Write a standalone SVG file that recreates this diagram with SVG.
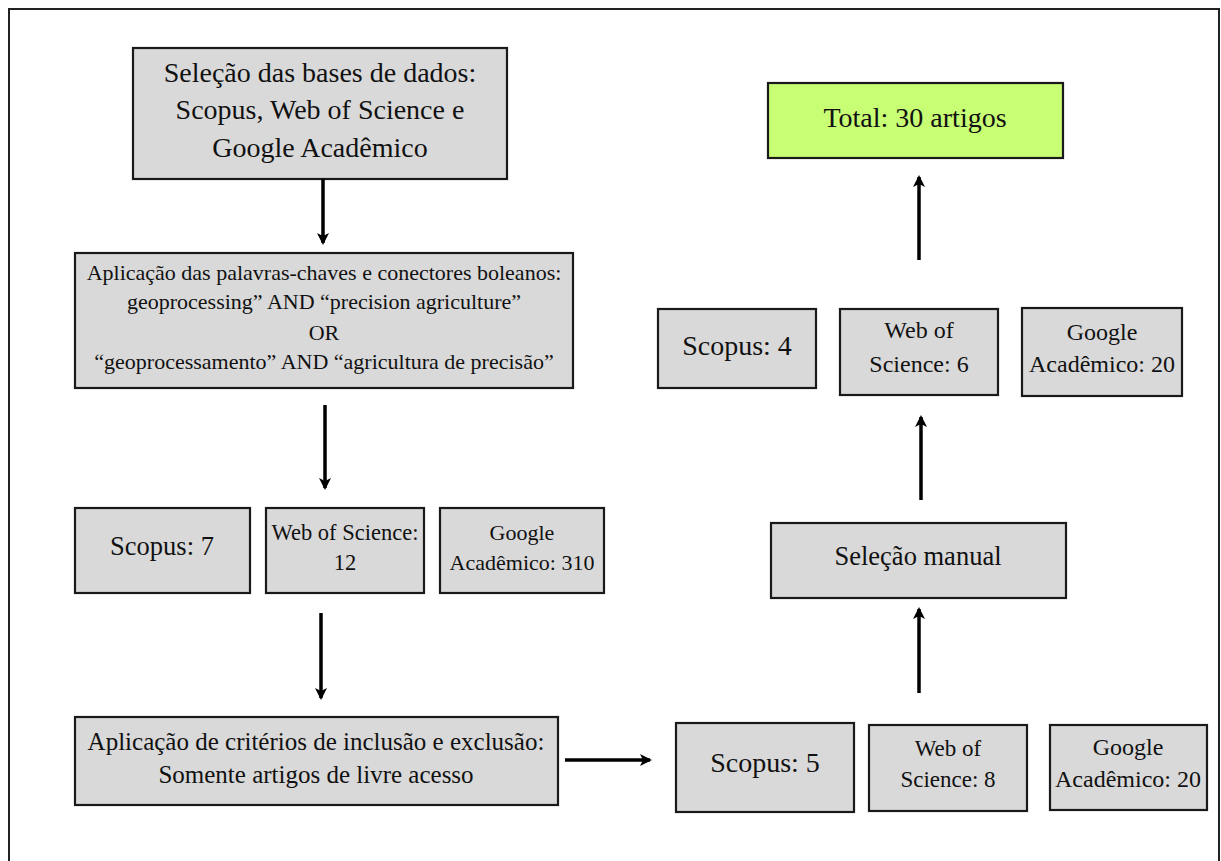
<svg xmlns="http://www.w3.org/2000/svg" width="1221" height="861" viewBox="0 0 1221 861">
<defs>
<style>
.box{fill:#d9d9d9;stroke:#1a1a1a;stroke-width:2.2}
.green{fill:#c8fe74;stroke:#1a1a1a;stroke-width:2.2}
text{font-family:"Liberation Serif","Times New Roman",serif;fill:#111;text-anchor:middle}
.conn{stroke:#000;stroke-width:3.5;fill:none;marker-end:url(#ah)}
</style>
<marker id="ah" viewBox="0 0 12 12" refX="10" refY="6" markerWidth="12" markerHeight="12" markerUnits="userSpaceOnUse" orient="auto">
<path d="M0,0 L12,6 L0,12 L3,6 z" fill="#000"/>
</marker>
</defs>
<rect x="0" y="0" width="1221" height="861" fill="#fff"/>
<rect x="9" y="9" width="1210" height="880" fill="none" stroke="#222" stroke-width="2"/>

<g id="bases">
<rect class="box" x="133" y="48" width="374" height="131"/>
<text x="320" y="82" font-size="28">Seleção das bases de dados:</text>
<text x="320" y="119" font-size="28">Scopus, Web of Science e</text>
<text x="320" y="157" font-size="28">Google Acadêmico</text>
</g>

<g id="palavras">
<rect class="box" x="75" y="253" width="498" height="135"/>
<text x="324" y="280" font-size="22">Aplicação das palavras-chaves e conectores boleanos:</text>
<text x="324" y="309" font-size="22">geoprocessing” AND “precision agriculture”</text>
<text x="324" y="340" font-size="22">OR</text>
<text x="324" y="369" font-size="22">“geoprocessamento” AND “agricultura de precisão”</text>
</g>

<g id="scopus7">
<rect class="box" x="75" y="508" width="175" height="85"/>
<text x="162" y="555" font-size="26.5">Scopus: 7</text>
</g>
<g id="wos12">
<rect class="box" x="266" y="508" width="158" height="85"/>
<text x="345" y="540" font-size="22.5">Web of Science:</text>
<text x="345" y="570" font-size="22.5">12</text>
</g>
<g id="google310">
<rect class="box" x="440" y="508" width="164" height="85"/>
<text x="522" y="540" font-size="22">Google</text>
<text x="522" y="570" font-size="22">Acadêmico: 310</text>
</g>

<g id="criterios">
<rect class="box" x="75" y="717" width="483" height="88"/>
<text x="316" y="750" font-size="25">Aplicação de critérios de inclusão e exclusão:</text>
<text x="316" y="783" font-size="25">Somente artigos de livre acesso</text>
</g>

<g id="scopus5">
<rect class="box" x="676" y="723" width="178" height="89"/>
<text x="765" y="772" font-size="28">Scopus: 5</text>
</g>
<g id="wos8">
<rect class="box" x="869" y="725" width="158" height="86"/>
<text x="948" y="756" font-size="23">Web of</text>
<text x="948" y="787" font-size="23">Science: 8</text>
</g>
<g id="google20b">
<rect class="box" x="1050" y="725" width="157" height="85"/>
<text x="1128" y="755" font-size="24">Google</text>
<text x="1128" y="787" font-size="24">Acadêmico: 20</text>
</g>

<g id="manual">
<rect class="box" x="771" y="523" width="295" height="75"/>
<text x="918" y="565" font-size="26.5">Seleção manual</text>
</g>

<g id="scopus4">
<rect class="box" x="658" y="309" width="158" height="79"/>
<text x="737" y="355" font-size="28">Scopus: 4</text>
</g>
<g id="wos6">
<rect class="box" x="840" y="309" width="158" height="86"/>
<text x="919" y="338" font-size="24">Web of</text>
<text x="919" y="372" font-size="24">Science: 6</text>
</g>
<g id="google20t">
<rect class="box" x="1022" y="308" width="160" height="88"/>
<text x="1102" y="340" font-size="24">Google</text>
<text x="1102" y="372" font-size="24">Acadêmico: 20</text>
</g>

<g id="total">
<rect class="green" x="768" y="83" width="295" height="75"/>
<text x="915" y="127" font-size="28">Total: 30 artigos</text>
</g>

<g id="connectors">
<line class="conn" x1="323" y1="179" x2="323" y2="243"/>
<line class="conn" x1="325" y1="405" x2="325" y2="488"/>
<line class="conn" x1="321" y1="613" x2="321" y2="698"/>
<line class="conn" x1="565" y1="760" x2="650" y2="760"/>
<line class="conn" x1="919" y1="693" x2="919" y2="609"/>
<line class="conn" x1="921" y1="500" x2="921" y2="417"/>
<line class="conn" x1="919" y1="260" x2="919" y2="177"/>
</g>
</svg>
